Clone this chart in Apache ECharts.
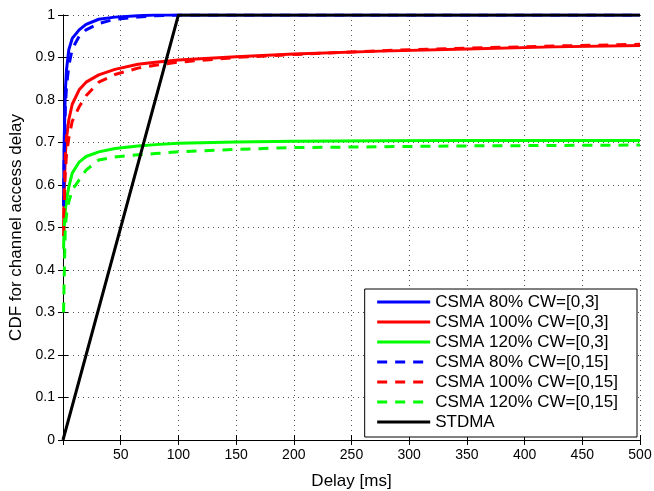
<!DOCTYPE html>
<html>
<head>
<meta charset="utf-8">
<script src="https://cdn.jsdelivr.net/npm/echarts@6/dist/echarts.min.js"></script>
<style>
html, body { margin: 0; padding: 0; background: #fff; }
#chart { width: 654px; height: 491px; }
</style>
</head>
<body>
<div id="chart"></div>
<script>
// delay sample points (ms)
var delays = [0.5, 1, 2, 3, 5, 8, 14, 20, 31, 45, 65, 80, 100, 150, 200, 275, 350, 425, 500];

var csma80cw3   = [0.56, 0.70, 0.82, 0.87, 0.918, 0.945, 0.965, 0.978, 0.99, 0.995, 0.998, 1, 1, 1, 1, 1, 1, 1, 1];
var csma100cw3  = [0.50, 0.58, 0.67, 0.71, 0.753, 0.79, 0.824, 0.842, 0.859, 0.872, 0.884, 0.889, 0.894, 0.902, 0.908, 0.915, 0.92, 0.925, 0.928];
var csma120cw3  = [0.45, 0.50, 0.54, 0.565, 0.595, 0.628, 0.654, 0.667, 0.678, 0.686, 0.692, 0.695, 0.698, 0.701, 0.703, 0.704, 0.705, 0.705, 0.705];
var csma80cw15  = [0.55, 0.66, 0.78, 0.83, 0.88, 0.92, 0.95, 0.965, 0.98, 0.99, 0.995, 0.998, 1, 1, 1, 1, 1, 1, 1];
var csma100cw15 = [0.48, 0.55, 0.63, 0.67, 0.71, 0.75, 0.784, 0.81, 0.842, 0.86, 0.875, 0.882, 0.889, 0.90, 0.907, 0.916, 0.922, 0.927, 0.931];
var csma120cw15 = [0.30, 0.38, 0.50, 0.53, 0.56, 0.588, 0.612, 0.635, 0.659, 0.666, 0.671, 0.674, 0.678, 0.684, 0.688, 0.69, 0.692, 0.693, 0.694];

var stdmaX = [0, 100, 500];
var stdmaY = [0, 1, 1];

var names = [
    'CSMA 80% CW=[0,3]', 'CSMA 100% CW=[0,3]', 'CSMA 120% CW=[0,3]',
    'CSMA 80% CW=[0,15]', 'CSMA 100% CW=[0,15]', 'CSMA 120% CW=[0,15]', 'STDMA'
];

function pairs(xs, ys) {
    return xs.map(function (x, i) { return [x, ys[i]]; });
}

function line(name, xs, ys, color, dashed) {
    return {
        name: name,
        type: 'line',
        data: pairs(xs, ys),
        symbol: 'none',
        animation: false,
        lineStyle: { color: color, width: 3, type: dashed ? [10, 8] : 'solid' },
        itemStyle: { color: color }
    };
}

var chart = echarts.init(document.getElementById('chart'));

var fontFamily = 'Liberation Sans, Arial, sans-serif';
var gridDots = { show: true, lineStyle: { color: '#555', type: [1, 4], width: 1 } };
var tick = { show: true, inside: true, length: 5, lineStyle: { color: '#000' } };

var options = {
    backgroundColor: '#fff',
    animation: false,
    grid: { left: 63, right: 14, top: 15, bottom: 51, outerBoundsMode: 'none' },
    legend: {
        orient: 'vertical',
        right: 17,
        bottom: 54,
        data: names,
        itemWidth: 53,
        itemHeight: 20,
        itemGap: 0,
        itemStyle: { opacity: 0 },
        lineStyle: { width: 3 },
        backgroundColor: '#fff',
        borderColor: '#000',
        borderWidth: 1,
        borderRadius: 0,
        padding: [3, 19, 5, 11],
        textStyle: { fontFamily: fontFamily, fontSize: 17, color: '#000', lineHeight: 20 }
    },
    xAxis: [{
        type: 'value',
        min: 0,
        max: 500,
        interval: 50,
        name: 'Delay [ms]',
        nameLocation: 'middle',
        nameGap: 33,
        nameTextStyle: { fontFamily: fontFamily, fontSize: 17, color: '#000' },
        axisLine: { show: true, lineStyle: { color: '#000' } },
        axisTick: tick,
        axisLabel: {
            fontFamily: fontFamily, fontSize: 14, color: '#000', margin: 8,
            formatter: function (v) { return v === 0 ? '' : v; }
        },
        splitLine: gridDots
    }, {
        type: 'value',
        position: 'top',
        min: 0,
        max: 500,
        interval: 50,
        axisLine: { show: true, lineStyle: { color: '#000' } },
        axisTick: tick,
        axisLabel: { show: false },
        splitLine: { show: false }
    }],
    yAxis: [{
        type: 'value',
        min: 0,
        max: 1,
        interval: 0.1,
        name: 'CDF for channel access delay',
        nameLocation: 'middle',
        nameGap: 36,
        nameTextStyle: { fontFamily: fontFamily, fontSize: 17, color: '#000' },
        axisLine: { show: true, lineStyle: { color: '#555' } },
        axisTick: tick,
        axisLabel: { fontFamily: fontFamily, fontSize: 14, color: '#000', margin: 8 },
        splitLine: gridDots
    }, {
        type: 'value',
        position: 'right',
        min: 0,
        max: 1,
        interval: 0.1,
        axisLine: { show: true, lineStyle: { color: '#000' } },
        axisTick: tick,
        axisLabel: { show: false },
        splitLine: { show: false }
    }],
    series: [
        line(names[0], delays, csma80cw3, '#0000ff', false),
        line(names[1], delays, csma100cw3, '#ff0000', false),
        line(names[2], delays, csma120cw3, '#00ff00', false),
        line(names[3], delays, csma80cw15, '#0000ff', true),
        line(names[4], delays, csma100cw15, '#ff0000', true),
        line(names[5], delays, csma120cw15, '#00ff00', true),
        line(names[6], stdmaX, stdmaY, '#000000', false)
    ]
};

chart.setOption(options);
</script>
</body>
</html>
